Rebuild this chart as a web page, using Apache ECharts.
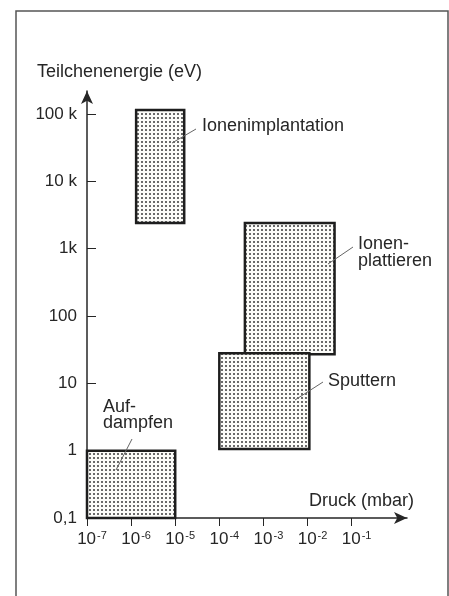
<!DOCTYPE html>
<html>
<head>
<meta charset="utf-8">
<script src="https://cdn.jsdelivr.net/npm/echarts@6/dist/echarts.min.js"></script>
<style>
  html, body { margin: 0; padding: 0; background: #fff; }
  #chart { width: 449px; height: 596px; }
</style>
</head>
<body>
<div id="chart"></div>
<script>
// Beschichtungsverfahren: Druck (mbar) und Teilchenenergie (eV)
const processNames = ['Aufdampfen', 'Ionenimplantation', 'Ionenplattieren', 'Sputtern'];
const processLabels = ['Auf-\ndampfen', 'Ionenimplantation', 'Ionen-\nplattieren', 'Sputtern'];
const pressureFrom = [1e-7, 1.3e-6, 3.8e-4, 1e-4];
const pressureTo = [1e-5, 1.6e-5, 0.041, 0.011];
const energyFrom = [0.1, 2400, 27, 1.06];
const energyTo = [1, 115000, 2400, 28];

const xTicks = [1e-7, 1e-6, 1e-5, 1e-4, 1e-3, 1e-2, 1e-1];
const xTickExp = ['-7', '-6', '-5', '-4', '-3', '-2', '-1'];
const yTicks = [0.1, 1, 10, 100, 1000, 10000, 100000];
const yTickLabels = ['0,1', '1', '10', '100', '1k', '10 k', '100 k'];

const font = '"Liberation Sans", Arial, Helvetica, sans-serif';
const ink = '#262626';

function tickIndex(ticks, v) {
  return ticks.findIndex(t => Math.abs(Math.log10(t) - Math.log10(v)) < 1e-6);
}

// Punktraster fuer die Flaechen
const dots = document.createElement('canvas');
dots.width = 4;
dots.height = 4;
const dctx = dots.getContext('2d');
dctx.fillStyle = '#fcfcf9';
dctx.fillRect(0, 0, 4, 4);
dctx.fillStyle = '#6a6a6a';
dctx.fillRect(1, 1, 2, 2);

const chart = echarts.init(document.getElementById('chart'));

const leader = (x1, y1, x2, y2) => ({
  type: 'line', z: 100, silent: true,
  shape: { x1, y1, x2, y2 },
  style: { stroke: '#666', lineWidth: 1 }
});
const label = (text, left, top, lineHeight) => ({
  type: 'text', left, top, z: 100,
  style: { text, fontSize: 18, lineHeight: lineHeight || 20, fontFamily: font, fill: ink }
});

chart.setOption({
  backgroundColor: '#fff',
  animation: false,
  grid: { left: 87, right: 42, top: 91, bottom: 78 },
  xAxis: {
    type: 'log',
    logBase: 10,
    min: 1e-7,
    max: 1.8,
    splitLine: { show: false },
    axisLine: {
      lineStyle: { color: ink, width: 1.5 },
      symbol: ['none', 'arrow'],
      symbolSize: [9, 13]
    },
    axisTick: {
      customValues: xTicks,
      length: 8,
      lineStyle: { color: ink, width: 1 }
    },
    axisLabel: {
      customValues: xTicks,
      margin: 12,
      padding: [0, 0, 0, 10],
      color: ink,
      formatter: v => {
        const i = tickIndex(xTicks, v);
        return i < 0 ? '' : '{b|10}{s|' + xTickExp[i] + '}';
      },
      rich: {
        b: { fontSize: 17, fontFamily: font, color: ink },
        s: { fontSize: 11, fontFamily: font, color: ink, padding: [0, 0, 8, 1] }
      }
    }
  },
  yAxis: {
    type: 'log',
    logBase: 10,
    min: 0.1,
    max: 2.2e5,
    splitLine: { show: false },
    axisLine: {
      lineStyle: { color: ink, width: 1.5 },
      symbol: ['none', 'arrow'],
      symbolSize: [9, 13]
    },
    axisTick: {
      customValues: yTicks,
      inside: true,
      length: 9,
      lineStyle: { color: ink, width: 1 }
    },
    axisLabel: {
      customValues: yTicks,
      margin: 10,
      color: ink,
      fontSize: 17,
      fontFamily: font,
      formatter: v => {
        const i = tickIndex(yTicks, v);
        return i < 0 ? '' : yTickLabels[i];
      }
    }
  },
  series: [{
    type: 'custom',
    name: 'Verfahren',
    encode: { x: [0, 1], y: [2, 3] },
    data: processNames.map((n, i) => ({
      name: n,
      value: [pressureFrom[i], pressureTo[i], energyFrom[i], energyTo[i]]
    })),
    renderItem: (params, api) => {
      const tl = api.coord([api.value(0), api.value(3)]);
      const br = api.coord([api.value(1), api.value(2)]);
      return {
        type: 'rect',
        shape: { x: tl[0], y: tl[1], width: br[0] - tl[0], height: br[1] - tl[1] },
        style: {
          fill: { image: dots, repeat: 'repeat' },
          stroke: '#1e1e1e',
          lineWidth: 2.5
        }
      };
    }
  }],
  graphic: [
    // Rahmen
    {
      type: 'rect', silent: true,
      shape: { x: 16, y: 11, width: 432, height: 600 },
      style: { fill: 'none', stroke: '#555', lineWidth: 1.5 }
    },
    label('Teilchenenergie (eV)', 37, 62),
    label('Druck (mbar)', 309, 491),
    // Beschriftungen mit Hinweislinien
    label(processLabels[1], 202, 116),
    label(processLabels[2], 358, 235, 17),
    label(processLabels[3], 328, 371),
    label(processLabels[0], 103, 398, 16),
    leader(172, 143, 196, 129),
    leader(328, 264, 353, 247),
    leader(295, 400, 323, 382),
    leader(116, 470, 132, 439)
  ]
});
</script>
</body>
</html>
